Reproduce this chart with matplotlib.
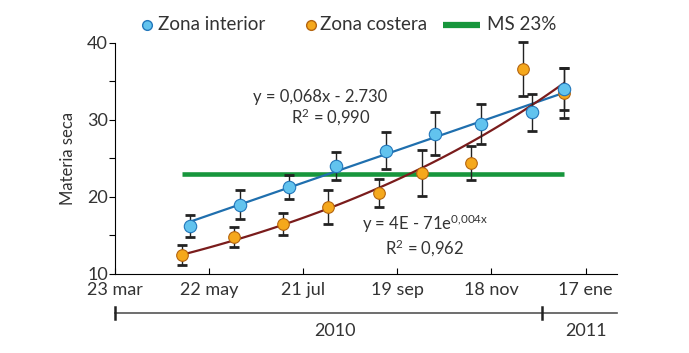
import numpy as np
import matplotlib
matplotlib.use("Agg")
import matplotlib.pyplot as plt
import matplotlib.dates as mdates
import matplotlib.transforms as mtransforms
from matplotlib.lines import Line2D

plt.rcParams['font.family'] = ['Lato', 'DejaVu Sans']
plt.rcParams['mathtext.fontset'] = 'custom'
plt.rcParams['mathtext.rm'] = 'Lato'
plt.rcParams['mathtext.it'] = 'Lato'

# data
interior_dates = ["2010-05-10", "2010-06-11", "2010-07-12", "2010-08-11", "2010-09-12",
                  "2010-10-13", "2010-11-11", "2010-12-14", "2011-01-03"]
interior_vals = [16.2, 19.0, 21.3, 24.0, 26.0, 28.2, 29.5, 31.0, 34.0]
interior_err = [1.4, 1.9, 1.6, 1.8, 2.4, 2.8, 2.6, 2.4, 2.7]

costera_dates = ["2010-05-05", "2010-06-07", "2010-07-08", "2010-08-06", "2010-09-07",
                 "2010-10-05", "2010-11-05", "2010-12-08", "2011-01-03"]
costera_vals = [12.5, 14.8, 16.5, 18.7, 20.5, 23.1, 24.4, 36.6, 33.5]
costera_err = [1.3, 1.25, 1.4, 2.2, 1.8, 3.0, 2.2, 3.5, 3.2]

ms_level = 23
ms_range = ["2010-05-05", "2011-01-03"]

tick_dates = ["2010-03-23", "2010-05-22", "2010-07-21", "2010-09-19", "2010-11-18", "2011-01-17"]
tick_labels = ["23 mar", "22 may", "21 jul", "19 sep", "18 nov", "17 ene"]
x_range = ["2010-03-23", "2011-02-06"]
year_split = "2010-12-20"
year_labels = [("2010", "2010-08-10"), ("2011", "2011-01-17")]

blue_fill = "#62c3ee"
blue_edge = "#2277bb"
blue_line = "#1f6fae"
orange_fill = "#f5a81c"
orange_edge = "#b5650f"
brown_line = "#7a1c1c"
green = "#17963c"
txt = "#333333"


def to_num(ds):
    return mdates.date2num(np.array(ds, dtype="datetime64[D]"))


def fx(px):
    return px / 689


def fy(py):
    return 1 - py / 353


xi = to_num(interior_dates)
xc = to_num(costera_dates)

fig = plt.figure(figsize=(6.89, 3.53), dpi=100)
ax = fig.add_axes([0.1669, 0.2238, 0.7286, 0.6544])

# MS 23% reference line
ms_x = to_num(ms_range)
ax.plot(ms_x, [ms_level, ms_level], color=green, lw=3.3, solid_capstyle="butt", zorder=1)

# trend lines
p = np.polyfit(xi, interior_vals, 1)
xx = np.linspace(xi.min(), xi.max(), 100)
ax.plot(xx, np.polyval(p, xx), color=blue_line, lw=1.6, zorder=2)

q = np.polyfit(xc - xc.min(), np.log(costera_vals), 1)
xx2 = np.linspace(xc.min(), xc.max(), 100)
ax.plot(xx2, np.exp(np.polyval(q, xx2 - xc.min())), color=brown_line, lw=1.6, zorder=2)

# error bars + points
for xs, ys, es in [(xi, interior_vals, interior_err), (xc, costera_vals, costera_err)]:
    eb = ax.errorbar(xs, ys, yerr=es, fmt="none", ecolor="#222222",
                     elinewidth=1.0, capsize=3.5, capthick=2, zorder=3)
    for art in eb.lines[1] + eb.lines[2]:
        art.set_clip_on(False)
ax.scatter(xc, costera_vals, s=70, color=orange_fill, edgecolor=orange_edge, lw=0.8, zorder=4)
ax.scatter(xi, interior_vals, s=80, color=blue_fill, edgecolor=blue_edge, lw=0.8, zorder=5)

ax.set_xlim(to_num(x_range))
ax.set_ylim(10, 40)
ax.set_xticks(to_num(tick_dates))
ax.set_xticklabels(tick_labels)
ax.set_yticks([10, 20, 30, 40])
ax.set_yticks([15, 25, 35], minor=True)
ax.tick_params(axis="both", labelsize=13, length=4, width=0.8, pad=1, labelcolor=txt)
ax.tick_params(axis="y", which="minor", length=4, width=0.8)
ax.tick_params(axis="x", direction="in", length=4, pad=6)
ax.spines[["top", "right"]].set_visible(False)
ax.set_ylabel("Materia seca", fontsize=12, labelpad=8, color=txt)

# year bar under the axis
trans = mtransforms.blended_transform_factory(ax.transData, ax.transAxes)
xr = to_num(x_range)
ax.plot(xr, [-0.169, -0.169], color="#555555", lw=1.2, transform=trans, clip_on=False)
for xv in [xr[0], to_num([year_split])[0]]:
    ax.plot([xv, xv], [-0.145, -0.195], color="#222222", lw=1.8, transform=trans, clip_on=False)
for lab, d in year_labels:
    ax.text(to_num([d])[0], -0.245, lab, transform=trans, ha="center", va="center",
            fontsize=13, color=txt)

# equations
fig.text(fx(320), fy(97), "y = 0,068x - 2.730", ha="center", va="center", fontsize=12, color=txt)
fig.text(fx(331), fy(117), "R$^2$ = 0,990", ha="center", va="center", fontsize=12, color=txt)
fig.text(fx(362), fy(224), "y = 4E - 71e$^{0{,}004x}$", ha="left", va="center", fontsize=12, color=txt)
fig.text(fx(425), fy(248), "R$^2$ = 0,962", ha="center", va="center", fontsize=12, color=txt)

# legend drawn by hand along the top
ly = 25
fig.add_artist(Line2D([fx(147)], [fy(ly)], marker="o", ls="none", markersize=7,
                      markerfacecolor=blue_fill, markeredgecolor=blue_edge))
fig.text(fx(158), fy(ly), "Zona interior", ha="left", va="center", fontsize=13.5, color=txt)
fig.add_artist(Line2D([fx(311)], [fy(ly)], marker="o", ls="none", markersize=7,
                      markerfacecolor=orange_fill, markeredgecolor=orange_edge))
fig.text(fx(320), fy(ly), "Zona costera", ha="left", va="center", fontsize=13.5, color=txt)
fig.add_artist(Line2D([fx(443), fx(480)], [fy(ly), fy(ly)], color=green, lw=4.5,
                      solid_capstyle="butt"))
fig.text(fx(487), fy(ly), "MS 23%", ha="left", va="center", fontsize=13.5, color=txt)

fig.savefig("out.png", dpi=100)
